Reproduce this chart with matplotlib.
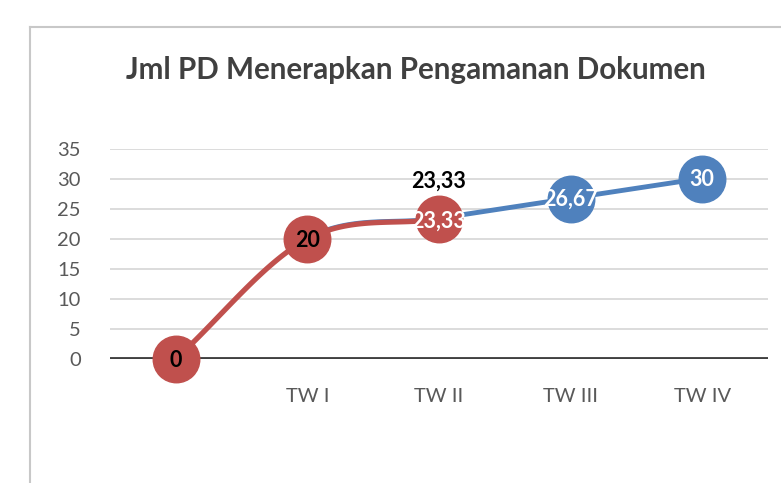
import numpy as np
import matplotlib
matplotlib.use("Agg")
import matplotlib.pyplot as plt
from matplotlib.lines import Line2D

plt.rcParams['font.family'] = ['Lato', 'DejaVu Sans']

# data
kategori = ['', 'TW I', 'TW II', 'TW III', 'TW IV']
realisasi = [0, 20, 23.33]          # seri merah (indeks 0..2)
target = [20, 23.33, 26.67, 30]     # seri biru (indeks 1..4)
label_realisasi = ['0', '20', '23,33']
label_target = ['23,33', '26,67', '30']

merah = '#C0504D'
biru = '#4F81BD'


def kurva_halus(x, y, awal=None, n=40):
    # spline Catmull-Rom seperti garis "smoothed" di Excel
    x = np.asarray(x, float)
    y = np.asarray(y, float)
    if awal is None:
        awal = (2 * x[0] - x[1], 2 * y[0] - y[1])
    px = np.concatenate([[awal[0]], x, [2 * x[-1] - x[-2]]])
    py = np.concatenate([[awal[1]], y, [2 * y[-1] - y[-2]]])
    xs, ys = [], []
    t = np.linspace(0, 1, n)
    for i in range(1, len(px) - 2):
        for p, out in ((px, xs), (py, ys)):
            p0, p1, p2, p3 = p[i - 1], p[i], p[i + 1], p[i + 2]
            out.extend(0.5 * ((2 * p1) + (-p0 + p2) * t
                              + (2 * p0 - 5 * p1 + 4 * p2 - p3) * t ** 2
                              + (-p0 + 3 * p1 - 3 * p2 + p3) * t ** 3))
    return np.array(xs), np.array(ys)


fig = plt.figure(figsize=(7.81, 4.83), dpi=100)
ax = fig.add_axes([110 / 781, 1 - 359 / 483, 658 / 781, 210 / 483])

# bingkai area chart
fig.add_artist(Line2D([30 / 781, 30 / 781], [0, 1 - 27 / 483], transform=fig.transFigure,
                      color='#C8C8C8', lw=1.5))
fig.add_artist(Line2D([30 / 781, 1], [1 - 27 / 483, 1 - 27 / 483], transform=fig.transFigure,
                      color='#C8C8C8', lw=1.5))

x_real = np.arange(0, 3)
x_targ = np.arange(1, 5)

bx, by = kurva_halus(x_targ, target, awal=(x_real[0], realisasi[0]))
ax.plot(bx, by + 0.12, color=biru, lw=3.5, solid_capstyle='round', zorder=3, clip_on=False)
ax.plot(x_targ[2:], target[2:], 'o', color=biru, ms=33.5, zorder=4, clip_on=False)

rx, ry = kurva_halus(x_real, realisasi)
ax.plot(rx, ry, color=merah, lw=3.8, solid_capstyle='round', zorder=5, clip_on=False)
ax.plot(x_real, realisasi, 'o', color=merah, ms=33.5, zorder=6, clip_on=False)

# label data
for xi, yi, s in zip(x_real, realisasi, label_realisasi):
    warna = 'white' if xi == 2 else 'black'
    ax.text(xi, yi - 0.3, s, ha='center', va='center', fontsize=15.5, fontweight='bold',
            color=warna, zorder=8, clip_on=False)
ax.text(x_real[2], realisasi[2] + 6.3, label_target[0], ha='center', va='center',
        fontsize=15.5, fontweight='bold', color='black', zorder=8)
for xi, yi, s in zip(x_targ[2:], target[2:], label_target[1:]):
    ax.text(xi, yi, s, ha='center', va='center', fontsize=15.5, fontweight='bold',
            color='white', zorder=8, clip_on=False)

ax.set_xlim(-0.5, 4.5)
ax.set_ylim(0, 35)
ax.set_yticks(range(0, 36, 5))
ax.set_xticks(range(5))
ax.set_xticklabels(kategori)
ax.grid(axis='y', color='#D9D9D9', lw=1.3, zorder=0)
ax.axhline(0, color='#404040', lw=3.5, zorder=2)
for s in ax.spines.values():
    s.set_visible(False)
ax.tick_params(length=0, labelsize=14.5, labelcolor='#595959')
ax.tick_params(axis='x', pad=21)
ax.tick_params(axis='y', pad=21)

fig.text(416 / 781, 1 - 70 / 483, 'Jml PD Menerapkan Pengamanan Dokumen', ha='center', va='center',
         fontsize=21.3, fontweight='bold', color='#404040')

fig.savefig('out.png', dpi=100)
